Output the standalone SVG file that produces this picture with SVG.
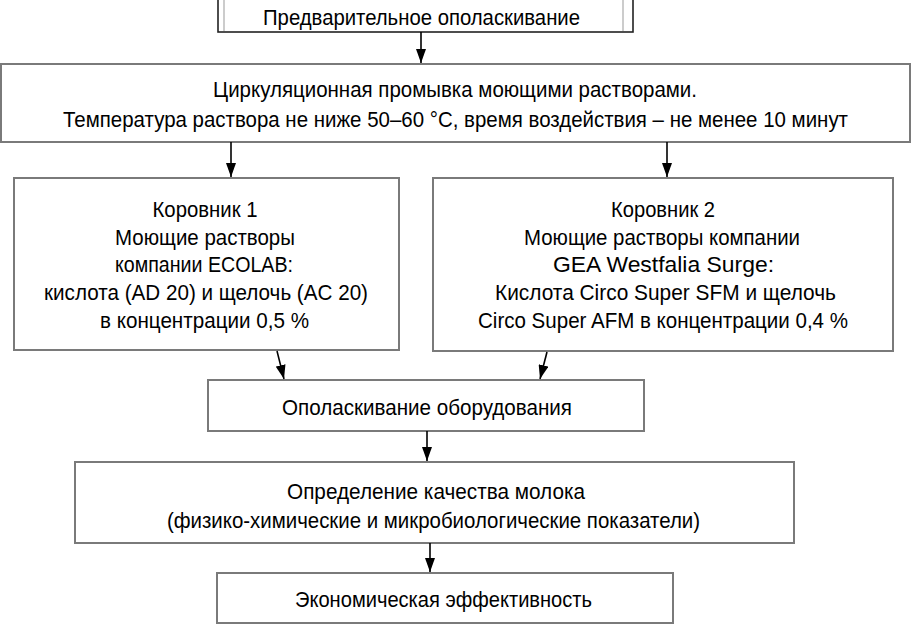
<svg xmlns="http://www.w3.org/2000/svg" width="912" height="625" viewBox="0 0 912 625">
<style>
.box{fill:#fff;stroke:#7a7a7a;stroke-width:2}
.t{font-family:"Liberation Sans",Arial,sans-serif;font-size:22px;fill:#000;text-anchor:middle}
.c{stroke:#000;stroke-width:1.6;fill:none}
</style>
<defs>
<marker id="ah" viewBox="0 0 14 10" refX="14" refY="5" markerWidth="14" markerHeight="10" markerUnits="userSpaceOnUse" orient="auto">
<path d="M0,0 L14,5 L0,10 z" fill="#000"/>
</marker>
</defs>
<rect width="912" height="625" fill="#fff"/>
<g id="n1">
<rect x="218" y="-2" width="415" height="34" fill="#fff" stroke="#222" stroke-width="1.6"/>
<line x1="224" y1="0" x2="224" y2="31" stroke="#aaa" stroke-width="1.2"/>
<line x1="623" y1="0" x2="623" y2="31" stroke="#aaa" stroke-width="1.2"/>
<text class="t" x="421.5" y="25" textLength="317" lengthAdjust="spacingAndGlyphs">Предварительное ополаскивание</text>
</g>
<g id="n2">
<rect class="box" x="1" y="64" width="909" height="78"/>
<text class="t" x="455" y="97" textLength="484" lengthAdjust="spacingAndGlyphs">Циркуляционная промывка моющими растворами.</text>
<text class="t" x="455.5" y="127" textLength="785" lengthAdjust="spacingAndGlyphs">Температура раствора не ниже 50–60 °C, время воздействия – не менее 10 минут</text>
</g>
<g id="n3">
<rect class="box" x="14" y="178" width="385" height="172"/>
<text class="t" x="205" y="217" textLength="105" lengthAdjust="spacingAndGlyphs">Коровник 1</text>
<text class="t" x="205" y="245" textLength="180" lengthAdjust="spacingAndGlyphs">Моющие растворы</text>
<text class="t" x="204" y="272" textLength="178" lengthAdjust="spacingAndGlyphs">компании ECOLAB:</text>
<text class="t" x="206" y="300" textLength="324" lengthAdjust="spacingAndGlyphs">кислота (AD 20) и щелочь (AC 20)</text>
<text class="t" x="204.5" y="328" textLength="209" lengthAdjust="spacingAndGlyphs">в концентрации 0,5 %</text>
</g>
<g id="n4">
<rect class="box" x="433" y="178" width="460" height="173"/>
<text class="t" x="663" y="217" textLength="104" lengthAdjust="spacingAndGlyphs">Коровник 2</text>
<text class="t" x="662" y="245" textLength="276" lengthAdjust="spacingAndGlyphs">Моющие растворы компании</text>
<text class="t" x="663.5" y="272" textLength="221" lengthAdjust="spacingAndGlyphs">GEA Westfalia Surge:</text>
<text class="t" x="665.5" y="300" textLength="341" lengthAdjust="spacingAndGlyphs">Кислота Circo Super SFM и щелочь</text>
<text class="t" x="663" y="328" textLength="370" lengthAdjust="spacingAndGlyphs">Circo Super AFM в концентрации 0,4 %</text>
</g>
<g id="n5">
<rect class="box" x="208" y="380" width="436" height="51"/>
<text class="t" x="427" y="415" textLength="290" lengthAdjust="spacingAndGlyphs">Ополаскивание оборудования</text>
</g>
<g id="n6">
<rect class="box" x="75" y="462" width="719" height="81"/>
<text class="t" x="436" y="499" textLength="298" lengthAdjust="spacingAndGlyphs">Определение качества молока</text>
<text class="t" x="433.5" y="528" textLength="533" lengthAdjust="spacingAndGlyphs">(физико-химические и микробиологические показатели)</text>
</g>
<g id="n7">
<rect class="box" x="217" y="573" width="456" height="50"/>
<text class="t" x="443.5" y="607" textLength="297" lengthAdjust="spacingAndGlyphs">Экономическая эффективность</text>
</g>
<g id="connectors">
<line class="c" x1="421" y1="32" x2="421" y2="63" marker-end="url(#ah)"/>
<line class="c" x1="231" y1="142" x2="231" y2="177" marker-end="url(#ah)"/>
<line class="c" x1="667" y1="142" x2="667" y2="177" marker-end="url(#ah)"/>
<line class="c" x1="277" y1="351" x2="284" y2="379" marker-end="url(#ah)"/>
<line class="c" x1="547" y1="352" x2="540" y2="379" marker-end="url(#ah)"/>
<line class="c" x1="427" y1="431" x2="427" y2="461" marker-end="url(#ah)"/>
<line class="c" x1="430" y1="543" x2="430" y2="572" marker-end="url(#ah)"/>
</g>
</svg>
